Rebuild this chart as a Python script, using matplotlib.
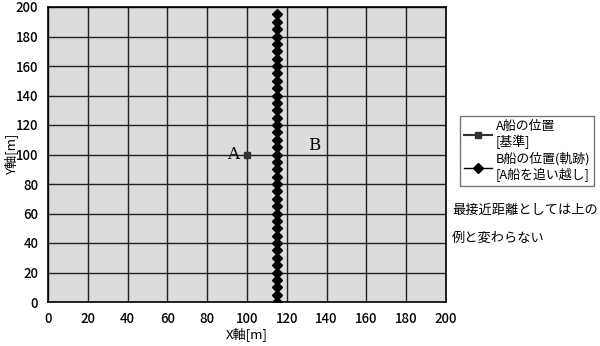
import numpy as np
import matplotlib
matplotlib.use("Agg")
import matplotlib.pyplot as plt

plt.rcParams['font.family'] = ['Noto Sans CJK JP', 'DejaVu Sans']

# A ship (reference point)
a_x = [100]
a_y = [100]
# B ship track (overtaking A)
b_x = [115] * 40
b_y = list(range(0, 200, 5))

ticks = list(range(0, 201, 20))

fig = plt.figure(figsize=(6.0, 3.46), dpi=100)
ax = fig.add_axes([48/600, 1 - 302/346, 398/600, 295/346])
ax.set_facecolor('#dcdcdc')

ax.plot(a_x, a_y, marker='s', color='#333333', markersize=4.5, linestyle='-',
        label='A船の位置\n[基準]')
ax.plot(b_x, b_y, marker='D', color='black', markersize=5, linestyle='-',
        linewidth=1, label='B船の位置(軌跡)\n[A船を追い越し]')

ax.set_xlim(0, 200)
ax.set_ylim(0, 200)
ax.set_xticks(ticks)
ax.set_yticks(ticks)
ax.grid(True, color='#222222', linewidth=1)
ax.set_axisbelow(True)
ax.tick_params(length=0, labelsize=9.5, pad=7)
for lab in ax.get_xticklabels() + ax.get_yticklabels():
    lab.set_fontweight('medium')
for s in ax.spines.values():
    s.set_linewidth(1.2)
ax.set_xlabel('X軸[m]', fontsize=9.5, labelpad=1)
ax.set_ylabel('Y軸[m]', fontsize=9.5)
ax.yaxis.set_label_coords(-30/398, 0.5)

ax.text(96, 100, 'A', family='DejaVu Serif', fontsize=12, ha='right', va='center')
ax.text(134, 106, 'B', family='DejaVu Serif', fontsize=12, ha='center', va='center')

leg = fig.legend(loc='upper left', bbox_to_anchor=(454/600, 1 - 110/346),
                 fontsize=9.3, frameon=True, fancybox=False, edgecolor='#555555',
                 handlelength=2.2, borderpad=0.25, labelspacing=0.25, handletextpad=0.3)

fig.text(452/600, 1 - 210/346, '最接近距離としては上の', fontsize=9.5, va='center')
fig.text(452/600, 1 - 238/346, '例と変わらない', fontsize=9.5, va='center')

fig.savefig('out.png', dpi=100)
